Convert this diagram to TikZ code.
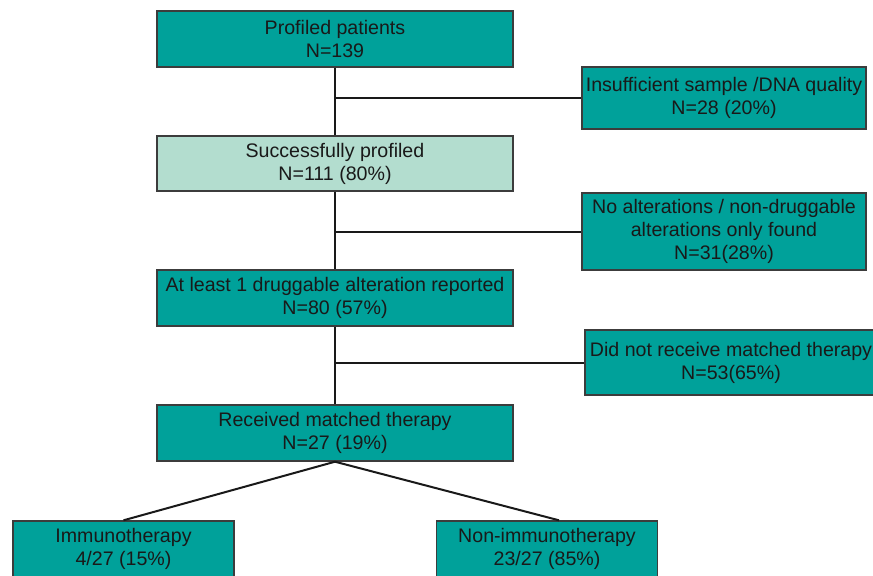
\documentclass[tikz,border=0pt]{standalone}
\usepackage{fontspec}
\setmainfont{Liberation Sans}
\definecolor{boxteal}{HTML}{00A19A}
\definecolor{boxlight}{HTML}{B3DDCF}
\definecolor{boxline}{HTML}{3C3C3C}
\tikzset{
  stepbox/.style={draw=boxline, fill=boxteal, line width=0.7pt, align=center,
    inner sep=0pt, text=black!90, font=\fontsize{9.8}{11.5}\selectfont,
    minimum width=178pt, minimum height=28pt},
  link/.style={draw=black!90, line width=1pt},
}
\begin{document}
\begin{tikzpicture}[x=0.5pt,y=-0.5pt]
\clip (0,0) rectangle (873,575);
\fill[white] (0,0) rectangle (873,575);
    % main line
    \node[stepbox] (profiled) at (335,39) {Profiled patients\\N=139};
    \node[stepbox,fill=boxlight,minimum height=27.5pt] (success) at (335,163.5) {Successfully profiled\\N=111 (80\%)};
    \node[stepbox] (druggable) at (335,298) {At least 1 druggable alteration reported\\N=80 (57\%)};
    \node[stepbox] (matched) at (335,433) {Received matched therapy\\N=27 (19\%)};
    % side boxes
    \node[stepbox,minimum width=142pt,minimum height=31pt] (insuff) at (724,98) {Insufficient sample /DNA quality\\N=28 (20\%)};
    \node[stepbox,minimum width=142pt,minimum height=38.5pt] (noalt) at (724,231.5) {No alterations / non-druggable\\alterations only found\\N=31(28\%)};
    \node[stepbox,minimum width=146pt,minimum height=32.5pt] (notrec) at (731,362.5) {Did not receive matched therapy\\N=53(65\%)};
    % bottom boxes
    \node[stepbox,minimum width=110.5pt] (immuno) at (123.5,549) {Immunotherapy\\4/27 (15\%)};
    \node[stepbox,minimum width=110.5pt] (nonimmuno) at (547,549) {Non-immunotherapy\\23/27 (85\%)};

    \draw[link] (profiled.south) -- (success.north);
    \draw[link] (success.south) -- (druggable.north);
    \draw[link] (druggable.south) -- (matched.north);
    \draw[link] (profiled.south |- insuff.west) -- (insuff.west);
    \draw[link] (success.south |- noalt.west) -- (noalt.west);
    \draw[link] (druggable.south |- notrec.west) -- (notrec.west);
    \draw[link] (matched.south) -- (immuno.north);
    \draw[link] (matched.south) -- ([xshift=6pt]nonimmuno.north);
\end{tikzpicture}
\end{document}
